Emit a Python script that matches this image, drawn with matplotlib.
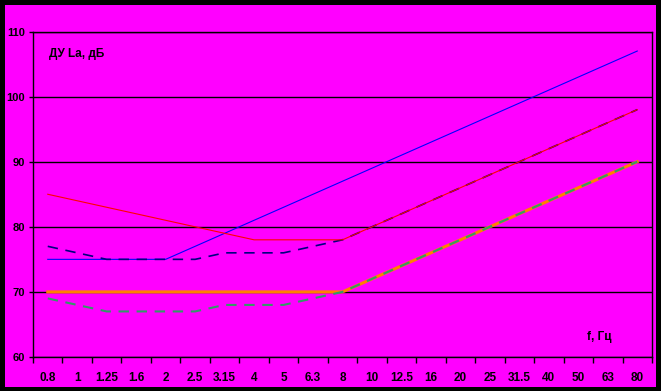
import matplotlib
matplotlib.use("Agg")
import matplotlib.pyplot as plt
from matplotlib.patches import Rectangle
from matplotlib.ticker import FixedLocator

plt.rcParams['font.family'] = ['Liberation Sans', 'DejaVu Sans']
plt.rcParams['lines.scale_dashes'] = False

# frequency bands, Hz
freqs = ['0.8', '1', '1.25', '1.6', '2', '2.5', '3.15', '4', '5', '6.3', '8',
         '10', '12.5', '16', '20', '25', '31.5', '40', '50', '63', '80']

# levels, dB
blue = [75, 75, 75, 75, 75, 77, 79, 81, 83, 85, 87,
        89, 91, 93, 95, 97, 99, 101, 103, 105, 107]
navy_dash = [77, 76, 75, 75, 75, 75, 76, 76, 76, 77, 78,
             80, 82, 84, 86, 88, 90, 92, 94, 96, 98]
red = [85, 84, 83, 82, 81, 80, 79, 78, 78, 78, 78,
       80, 82, 84, 86, 88, 90, 92, 94, 96, 98]
orange = [70, 70, 70, 70, 70, 70, 70, 70, 70, 70, 70,
          72, 74, 76, 78, 80, 82, 84, 86, 88, 90]
green_dash = [69, 68, 67, 67, 67, 67, 68, 68, 68, 69, 70,
              72, 74, 76, 78, 80, 82, 84, 86, 88, 90]

W, H = 661, 391
fig = plt.figure(figsize=(W / 100, H / 100), dpi=100, facecolor='black')
# magenta chart area inside black frame
fig.patches.append(Rectangle((5 / W, 4 / H), 651 / W, 382 / H,
                             transform=fig.transFigure, facecolor='#FF00FF',
                             edgecolor='none', zorder=0))

ax = fig.add_axes([33 / W, (H - 357) / H, 619 / W, 325.5 / H])
ax.set_zorder(2)
ax.set_facecolor('#FF00FF')

x = list(range(len(freqs)))
ax.plot(x, blue, color='#0000FF', lw=0.8, zorder=3)
ax.plot(x, navy_dash, color='#000080', lw=1.2, dashes=(7.5, 5.5), zorder=3)
ax.plot(x, red, color='#FF0000', lw=0.8, zorder=4)
ax.plot(x, orange, color='#FF8000', lw=2.2, zorder=3)
ax.plot(x, green_dash, color='#339966', lw=1.5, dashes=(7.5, 5.5), zorder=4)

ax.set_xlim(-0.5, len(freqs) - 0.5)
ax.set_ylim(60, 110)
ax.set_yticks(range(60, 111, 10))
ax.set_yticklabels([str(v) for v in range(60, 111, 10)], fontweight='bold', fontsize=8)
ax.yaxis.grid(True, color='black', lw=1)
ax.set_axisbelow(True)

ax.set_xticks(x)
ax.set_xticklabels(freqs, fontweight='bold', fontsize=8.5)
ax.xaxis.set_minor_locator(FixedLocator([i - 0.5 for i in range(len(freqs) + 1)]))
ax.tick_params(axis='x', which='major', length=0, pad=11)
ax.tick_params(axis='x', which='minor', length=4, width=1, direction='out', color='black')
ax.tick_params(axis='y', length=3, width=1, color='black', pad=3)

for s in ax.spines.values():
    s.set_color('black')
    s.set_linewidth(1)

ax.text(0.026, 0.95, 'ДУ La, дБ', transform=ax.transAxes, fontsize=8.5,
        fontweight='bold', va='top', ha='left')
ax.text(0.935, 0.06, 'f, Гц', transform=ax.transAxes, fontsize=8.5,
        fontweight='bold', va='center', ha='right')

fig.savefig('out.png', dpi=100, facecolor='black')
